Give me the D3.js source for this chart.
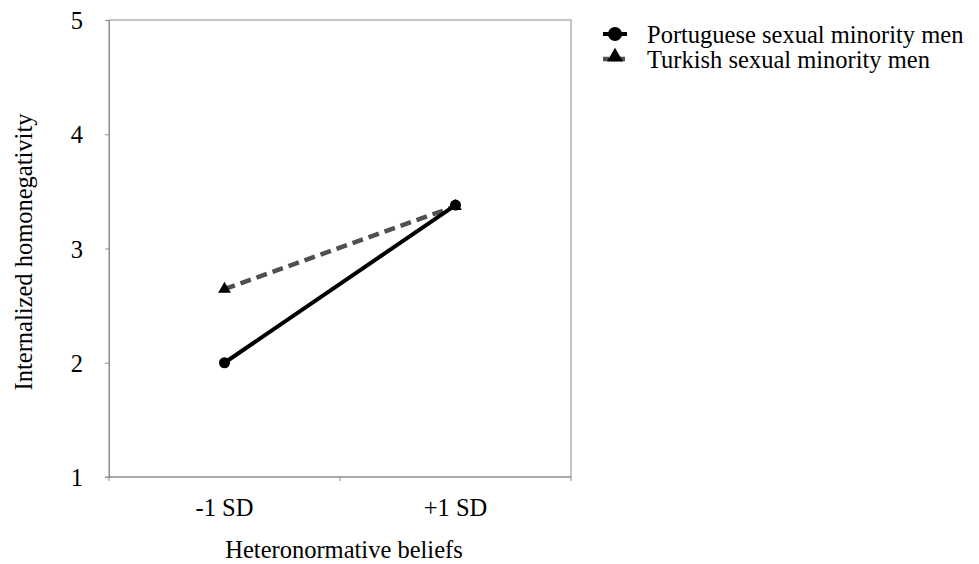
<!DOCTYPE html>
<html>
<head>
<meta charset="utf-8">
<script src="https://cdn.jsdelivr.net/npm/d3@7"></script>
<style>
  body { margin: 0; background: #fff; }
  text { font-family: "Liberation Serif", "Times New Roman", serif; fill: #000; }
</style>
</head>
<body>
<svg></svg>
<script>
// data
var categories = ["-1 SD", "+1 SD"];
var seriesNames = ["Portuguese sexual minority men", "Turkish sexual minority men"];
var portuguese = [2.0, 3.38];
var turkish = [2.645, 3.37];
var yTicks = [1, 2, 3, 4, 5];

var svgWidth = 979, svgHeight = 564;
var svg = d3.select("svg").attr("width", svgWidth).attr("height", svgHeight);

var mLeft = 109, mRight = 571, mTop = 20, mBottom = 477;
var fontSize = "24.5px";

var x = d3.scaleBand().domain(categories).range([mLeft, mRight]);
var y = d3.scaleLinear().domain([1, 5]).range([mBottom, mTop]);

// plot frame
svg.append("rect")
   .attr("x", mLeft).attr("y", mTop)
   .attr("width", mRight - mLeft).attr("height", mBottom - mTop)
   .attr("fill", "none").attr("stroke", "#8c8c8c").attr("stroke-width", 1);

// y axis
var yAxis = svg.append("g").attr("transform", "translate(" + mLeft + ",0)")
   .call(d3.axisLeft(y).tickValues(yTicks).tickFormat(d3.format("d")).tickSize(4).tickPadding(22));
yAxis.select(".domain").attr("stroke", "#8c8c8c");
yAxis.selectAll(".tick line").attr("stroke", "#8c8c8c");
yAxis.attr("font-family", null).attr("font-size", null);
yAxis.selectAll("text").style("font-size", fontSize).attr("dy", "0.35em");

// x axis (ticks at band edges)
var xAxis = svg.append("g").attr("transform", "translate(0," + mBottom + ")");
xAxis.append("line").attr("x1", mLeft - 4).attr("x2", mRight).attr("stroke", "#8c8c8c");
xAxis.selectAll(".edge").data(d3.range(categories.length + 1)).enter().append("line")
   .attr("x1", function(i){ return mLeft + i * x.step(); })
   .attr("x2", function(i){ return mLeft + i * x.step(); })
   .attr("y1", 0).attr("y2", 4).attr("stroke", "#8c8c8c");
xAxis.selectAll(".lbl").data(categories).enter().append("text")
   .attr("x", function(d){ return x(d) + x.bandwidth() / 2; })
   .attr("y", 30).attr("dy", "0.35em").attr("text-anchor", "middle").style("font-size", fontSize)
   .text(function(d){ return d; });

// axis titles
svg.append("text").attr("x", 344).attr("y", 558)
   .attr("text-anchor", "middle").style("font-size", fontSize).text("Heteronormative beliefs");
svg.append("text").attr("transform", "translate(23,252) rotate(-90)")
   .attr("dy", "0.35em")
   .attr("text-anchor", "middle").style("font-size", fontSize).text("Internalized homonegativity");

var cx = function(d, i){ return x(categories[i]) + x.bandwidth() / 2; };
var line = d3.line().x(cx).y(function(d){ return y(d); });

// Turkish (dashed)
svg.append("path").datum(turkish).attr("d", line)
   .attr("fill", "none").attr("stroke", "#505050").attr("stroke-width", 4.5)
   .attr("stroke-dasharray", "11,6");
var tri = d3.symbol().type(d3.symbolTriangle).size(70);
svg.selectAll(".tri").data(turkish).enter().append("path")
   .attr("d", tri)
   .attr("transform", function(d, i){ return "translate(" + cx(d, i) + "," + y(d) + ")"; })
   .attr("fill", "#000");

// Portuguese (solid)
svg.append("path").datum(portuguese).attr("d", line)
   .attr("fill", "none").attr("stroke", "#000").attr("stroke-width", 4);
svg.selectAll(".dot").data(portuguese).enter().append("circle")
   .attr("cx", cx).attr("cy", function(d){ return y(d); }).attr("r", 5.5)
   .attr("fill", "#000");

// legend
var leg = svg.append("g").attr("transform", "translate(603,34)");
leg.append("line").attr("x1", 0).attr("x2", 24).attr("y1", 0).attr("y2", 0)
   .attr("stroke", "#000").attr("stroke-width", 4);
leg.append("circle").attr("cx", 12).attr("cy", 0).attr("r", 7).attr("fill", "#000");
leg.append("line").attr("x1", 0).attr("x2", 24).attr("y1", 25).attr("y2", 25)
   .attr("stroke", "#505050").attr("stroke-width", 4.5).attr("stroke-dasharray", "6,2");
leg.append("path").attr("d", d3.symbol().type(d3.symbolTriangle).size(110))
   .attr("transform", "translate(12,23)").attr("fill", "#000");
leg.selectAll(".lt").data(seriesNames).enter().append("text")
   .attr("x", 44).attr("y", function(d, i){ return i * 25; }).attr("dy", "0.35em")
   .style("font-size", fontSize).text(function(d){ return d; });
</script>
</body>
</html>
